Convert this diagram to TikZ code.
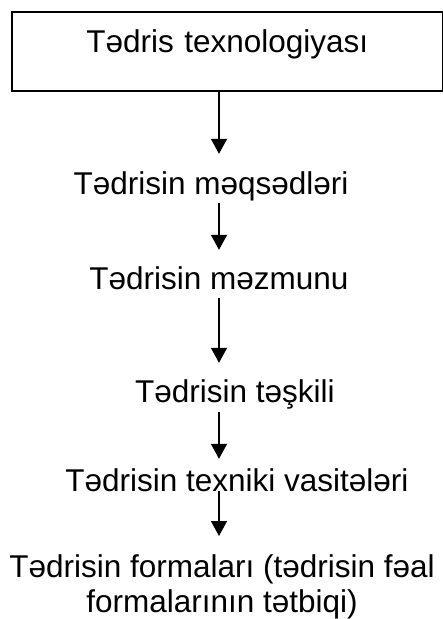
\documentclass[tikz,border=0pt]{standalone}
\usepackage{fontspec}
\setmainfont{Liberation Sans}
\usetikzlibrary{arrows.meta}

\begin{document}
\begin{tikzpicture}[x=1pt,y=-1pt,>={Triangle[width=16pt,length=15pt]}]
\tikzset{
  txt/.style={font=\fontsize{31.5}{35}\selectfont,inner sep=0pt,text height=22pt,text depth=0pt,anchor=base},
  arr/.style={->,line width=1.5pt,shorten <=9pt,shorten >=17pt}
}
    \useasboundingbox (0,0) rectangle (443,619);
    \coordinate (ax) at (219,0);

    \node[draw,line width=1.5pt,font=\fontsize{31.5}{35}\selectfont,inner sep=0pt,text width=431pt,align=center,text height=41pt,text depth=38pt,anchor=north west] (tech) at (11,11) {Tədris texnologiyası};
    \node[txt] (goals) at (211,194) {Tədrisin məqsədləri};
    \node[txt] (content) at (219,289) {Tədrisin məzmunu};
    \node[txt] (org) at (235,402) {Tədrisin təşkili};
    \node[txt] (tools) at (237,491) {Tədrisin texniki vasitələri};
    \node[font=\fontsize{31.5}{35}\selectfont,inner sep=0pt,align=center,anchor=north] (forms) at (222,554) {Tədrisin formaları (tədrisin fəal\\formalarının tətbiqi)};

    \draw[arr,shorten <=0pt,shorten >=18pt] (tech.south -| ax) -- (goals.north -| ax);
    \draw[arr] (goals.south -| ax) -- (content.north -| ax);
    \draw[arr] (content.south -| ax) -- (org.north -| ax);
    \draw[arr,shorten <=10pt,shorten >=10pt] (org.south -| ax) -- (tools.north -| ax);
    \draw[arr,shorten <=0pt,shorten >=18pt] (tools.south -| ax) -- (forms.north -| ax);

\end{tikzpicture}
\end{document}
